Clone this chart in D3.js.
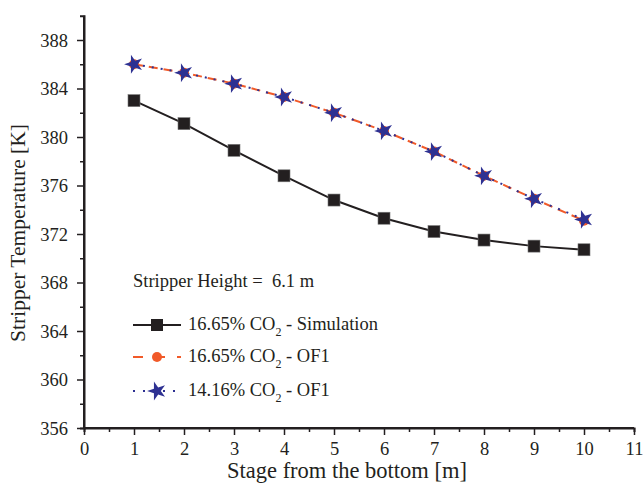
<!DOCTYPE html>
<html>
<head>
<meta charset="utf-8">
<script src="https://cdn.jsdelivr.net/npm/d3@7"></script>
<style>
  body { margin: 0; background: #fff; }
  svg text { font-family: 'Liberation Serif', 'DejaVu Serif', serif !important; fill: #231f20; white-space: pre; }
</style>
</head>
<body>
<div id="chart"></div>
<script>
const stages = [1, 2, 3, 4, 5, 6, 7, 8, 9, 10];
const simulation = [383.0, 381.1, 378.9, 376.8, 374.8, 373.3, 372.2, 371.5, 371.0, 370.7];
const of1_1665 = [386.0, 385.3, 384.4, 383.3, 382.0, 380.5, 378.8, 376.8, 374.9, 373.1];
const of1_1416 = [386.0, 385.3, 384.4, 383.3, 382.0, 380.5, 378.8, 376.8, 374.9, 373.2];
const xTicks = d3.range(0, 12);
const yTicks = [356, 360, 364, 368, 372, 376, 380, 384, 388];

const margin = {top: 15, right: 9, bottom: 58, left: 84};
const W = 643, H = 486;
const height = H - margin.top - margin.bottom;

const svg = d3.select("#chart").append("svg")
  .attr("width", W).attr("height", H);
const g = svg.append("g")
  .attr("transform", "translate(" + margin.left + "," + margin.top + ")");

const x = d3.scaleLinear().domain([0, 11]).range([0, 550]);
const y = d3.scaleLinear().domain([356, 390]).range([height, height - 34 * 12.125]);

// axes
const xAxis = g.append("g").attr("transform", "translate(0," + height + ")");
xAxis.call(d3.axisBottom(x).tickValues(xTicks).tickSize(7).tickPadding(6).tickFormat(d3.format("d")));
xAxis.append("g").call(d3.axisBottom(x).tickValues(d3.range(0.5, 11, 1)).tickSize(4).tickFormat(""));
const yAxis = g.append("g");
yAxis.call(d3.axisLeft(y).tickValues(yTicks).tickSize(7).tickPadding(9));
yAxis.append("g").call(d3.axisLeft(y).tickValues(d3.range(358, 390, 4)).tickSize(4).tickFormat(""));

xAxis.select("g").select(".domain").remove();
yAxis.select("g").select(".domain").remove();
svg.selectAll(".domain").attr("stroke", "#231f20").attr("stroke-width", 2);
svg.selectAll(".tick line").attr("stroke", "#231f20").attr("stroke-width", 1.5);
xAxis.selectAll(".tick text").attr("font-size", 18.5).attr("dy", "0.75em").attr("fill", "#231f20");
yAxis.selectAll(".tick text").attr("font-size", 18.5).attr("dy", "0.33em").attr("fill", "#231f20");
xAxis.select(".domain").attr("d", "M0,0H550");
yAxis.select(".domain").attr("d", "M0," + height + "V" + y(390));

// axis titles
svg.append("text")
  .attr("x", 347).attr("y", 478)
  .attr("text-anchor", "middle").attr("font-size", 22.5)
  .text("Stage from the bottom [m]");
svg.append("text")
  .attr("transform", "translate(25,233) rotate(-90)")
  .attr("text-anchor", "middle").attr("font-size", 21.5)
  .text("Stripper Temperature [K]");

const line = d3.line()
  .x(function (d, i) { return x(stages[i]); })
  .y(function (d) { return y(d); });

const black = "#231f20", orange = "#f15a29", blue = "#2e3192";

g.append("path").datum(simulation).attr("d", line)
  .attr("fill", "none").attr("stroke", black).attr("stroke-width", 2);
g.append("path").datum(of1_1665).attr("d", line)
  .attr("fill", "none").attr("stroke", orange).attr("stroke-width", 2)
  .attr("stroke-dasharray", "9,6");
g.append("path").datum(of1_1416).attr("d", line)
  .attr("fill", "none").attr("stroke", blue).attr("stroke-width", 2)
  .attr("stroke-dasharray", "2,7");

const star = d3.symbol().type(d3.symbolStar).size(110);

g.selectAll(".sq").data(simulation).enter().append("rect")
  .attr("x", function (d, i) { return x(stages[i]) - 6; })
  .attr("y", function (d) { return y(d) - 6; })
  .attr("width", 12).attr("height", 12)
  .attr("fill", black).attr("stroke", "#777").attr("stroke-width", 0.6);
g.selectAll(".ci").data(of1_1665).enter().append("circle")
  .attr("cx", function (d, i) { return x(stages[i]); })
  .attr("cy", function (d) { return y(d); })
  .attr("r", 5).attr("fill", orange);
g.selectAll(".st").data(of1_1416).enter().append("path")
  .attr("d", star)
  .attr("transform", function (d, i) { return "translate(" + x(stages[i]) + "," + y(d) + ") rotate(-18)"; })
  .attr("fill", blue);

// annotation and legend
svg.append("text").attr("x", 133).attr("y", 287).attr("font-size", 18.5)
  .text("Stripper Height =  6.1 m");

const legend = [
  {label: "16.65% CO", tail: " - Simulation", color: black, dash: null, mark: "sq", y: 325},
  {label: "16.65% CO", tail: " - OF1", color: orange, dash: "10,12", mark: "ci", y: 357},
  {label: "14.16% CO", tail: " - OF1", color: blue, dash: "2,8", mark: "st", y: 391}
];
const lg = svg.append("g");
legend.forEach(function (d) {
  lg.append("line").attr("x1", 133).attr("x2", 181).attr("y1", d.y).attr("y2", d.y)
    .attr("stroke", d.color).attr("stroke-width", 2)
    .attr("stroke-dasharray", d.dash);
  if (d.mark === "sq") {
    lg.append("rect").attr("x", 151).attr("y", d.y - 6).attr("width", 12).attr("height", 12).attr("fill", black);
  } else if (d.mark === "ci") {
    lg.append("circle").attr("cx", 157).attr("cy", d.y).attr("r", 5).attr("fill", orange);
  } else {
    lg.append("path").attr("d", star).attr("transform", "translate(157," + d.y + ") rotate(-18)").attr("fill", blue);
  }
  const t = lg.append("text").attr("x", 188).attr("y", d.y + 5).attr("font-size", 18.5);
  t.append("tspan").text(d.label);
  t.append("tspan").attr("font-size", 12).attr("dy", 6).text("2");
  t.append("tspan").attr("dy", -6).text(d.tail);
});
</script>
</body>
</html>
